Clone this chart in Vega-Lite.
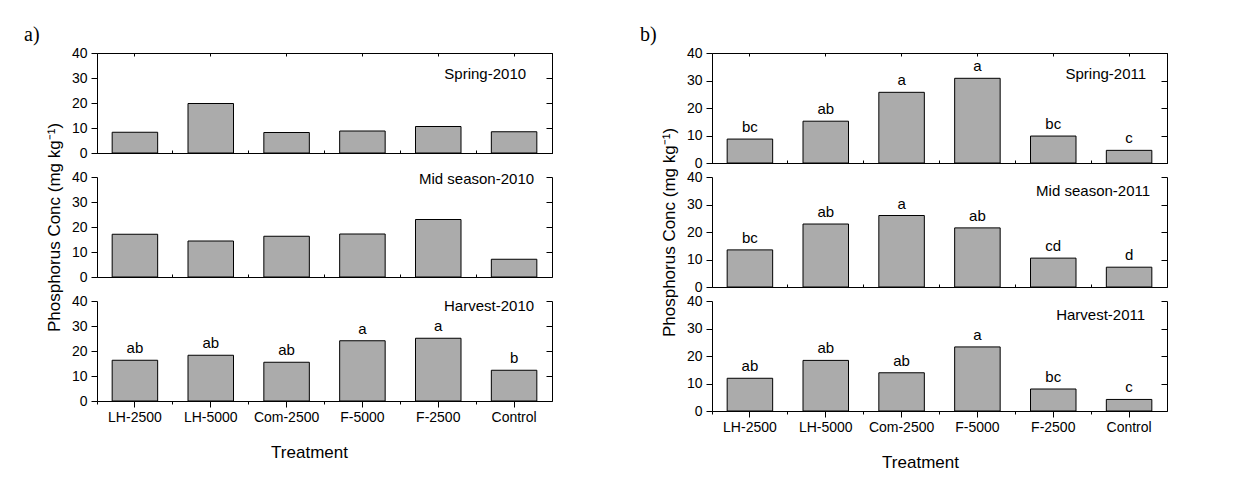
{
  "$schema": "https://vega.github.io/schema/vega-lite/v6.json",
  "padding": {"left": 23, "top": 24, "right": 0, "bottom": 0},
  "background": "white",
  "datasets": {
    "d": [
      {"panel": "a", "season": "Spring-2010", "treatment": "LH-2500", "value": 8.3, "letter": ""},
      {"panel": "a", "season": "Spring-2010", "treatment": "LH-5000", "value": 19.8, "letter": ""},
      {"panel": "a", "season": "Spring-2010", "treatment": "Com-2500", "value": 8.2, "letter": ""},
      {"panel": "a", "season": "Spring-2010", "treatment": "F-5000", "value": 8.8, "letter": ""},
      {"panel": "a", "season": "Spring-2010", "treatment": "F-2500", "value": 10.6, "letter": ""},
      {"panel": "a", "season": "Spring-2010", "treatment": "Control", "value": 8.5, "letter": ""},
      {"panel": "a", "season": "Mid season-2010", "treatment": "LH-2500", "value": 17.1, "letter": ""},
      {"panel": "a", "season": "Mid season-2010", "treatment": "LH-5000", "value": 14.4, "letter": ""},
      {"panel": "a", "season": "Mid season-2010", "treatment": "Com-2500", "value": 16.3, "letter": ""},
      {"panel": "a", "season": "Mid season-2010", "treatment": "F-5000", "value": 17.2, "letter": ""},
      {"panel": "a", "season": "Mid season-2010", "treatment": "F-2500", "value": 23.0, "letter": ""},
      {"panel": "a", "season": "Mid season-2010", "treatment": "Control", "value": 7.1, "letter": ""},
      {"panel": "a", "season": "Harvest-2010", "treatment": "LH-2500", "value": 16.3, "letter": "ab"},
      {"panel": "a", "season": "Harvest-2010", "treatment": "LH-5000", "value": 18.3, "letter": "ab"},
      {"panel": "a", "season": "Harvest-2010", "treatment": "Com-2500", "value": 15.5, "letter": "ab"},
      {"panel": "a", "season": "Harvest-2010", "treatment": "F-5000", "value": 24.1, "letter": "a"},
      {"panel": "a", "season": "Harvest-2010", "treatment": "F-2500", "value": 25.1, "letter": "a"},
      {"panel": "a", "season": "Harvest-2010", "treatment": "Control", "value": 12.3, "letter": "b"},
      {"panel": "b", "season": "Spring-2011", "treatment": "LH-2500", "value": 8.7, "letter": "bc"},
      {"panel": "b", "season": "Spring-2011", "treatment": "LH-5000", "value": 15.2, "letter": "ab"},
      {"panel": "b", "season": "Spring-2011", "treatment": "Com-2500", "value": 25.7, "letter": "a"},
      {"panel": "b", "season": "Spring-2011", "treatment": "F-5000", "value": 30.8, "letter": "a"},
      {"panel": "b", "season": "Spring-2011", "treatment": "F-2500", "value": 9.8, "letter": "bc"},
      {"panel": "b", "season": "Spring-2011", "treatment": "Control", "value": 4.6, "letter": "c"},
      {"panel": "b", "season": "Mid season-2011", "treatment": "LH-2500", "value": 13.5, "letter": "bc"},
      {"panel": "b", "season": "Mid season-2011", "treatment": "LH-5000", "value": 22.9, "letter": "ab"},
      {"panel": "b", "season": "Mid season-2011", "treatment": "Com-2500", "value": 26.0, "letter": "a"},
      {"panel": "b", "season": "Mid season-2011", "treatment": "F-5000", "value": 21.5, "letter": "ab"},
      {"panel": "b", "season": "Mid season-2011", "treatment": "F-2500", "value": 10.5, "letter": "cd"},
      {"panel": "b", "season": "Mid season-2011", "treatment": "Control", "value": 7.2, "letter": "d"},
      {"panel": "b", "season": "Harvest-2011", "treatment": "LH-2500", "value": 11.9, "letter": "ab"},
      {"panel": "b", "season": "Harvest-2011", "treatment": "LH-5000", "value": 18.4, "letter": "ab"},
      {"panel": "b", "season": "Harvest-2011", "treatment": "Com-2500", "value": 13.9, "letter": "ab"},
      {"panel": "b", "season": "Harvest-2011", "treatment": "F-5000", "value": 23.3, "letter": "a"},
      {"panel": "b", "season": "Harvest-2011", "treatment": "F-2500", "value": 8.0, "letter": "bc"},
      {"panel": "b", "season": "Harvest-2011", "treatment": "Control", "value": 4.2, "letter": "c"}
    ]
  },
  "data": {"name": "d"},
  "columns": 2,
  "bounds": "flush",
  "align": "all",
  "spacing": {"row": 14, "column": 160},
  "concat": [
    {
      "width": 455, "height": 100,
      "view": {"stroke": "black", "strokeWidth": 1},
      "title": {"text": "a)", "anchor": "start", "frame": "group", "dx": -73, "offset": -15, "baseline": "alphabetic", "font": "Liberation Serif", "fontSize": 20, "fontWeight": "normal", "color": "black"},
      "transform": [{"filter": "datum.panel == 'a' && datum.season == 'Spring-2010'"}],
      "layer": [
        {"mark": {"type": "bar", "fill": "#ababab", "stroke": "black", "strokeWidth": 1},
         "encoding": {
           "x": {"field": "treatment", "type": "nominal", "scale": {"domain": ["LH-2500", "LH-5000", "Com-2500", "F-5000", "F-2500", "Control"], "paddingInner": 0.4, "paddingOuter": 0.2}, "axis": {"orient": "bottom", "labels": false, "tickSize": -3, "title": null}},
           "y": {"field": "value", "type": "quantitative", "scale": {"domain": [0, 40], "nice": false}, "axis": {"orient": "left", "values": [0, 10, 20, 30, 40], "tickSize": 6, "labelPadding": 4, "title": null}}}},
        {"mark": {"type": "text", "baseline": "alphabetic", "dy": -7, "fontSize": 15},
         "encoding": {
           "x": {"field": "treatment", "type": "nominal", "axis": {"orient": "top", "labels": false, "tickSize": -3, "domain": false, "title": null}},
           "y": {"field": "value", "type": "quantitative", "axis": {"orient": "right", "labels": false, "values": [0, 10, 20, 30, 40], "tickSize": -6, "title": null}},
           "text": {"field": "letter"}}},
        {"transform": [{"filter": "datum.treatment == 'Control'"}],
         "mark": {"type": "text", "align": "right", "baseline": "middle", "dx": 12, "fontSize": 15},
         "encoding": {
           "x": {"field": "treatment", "type": "nominal", "axis": {"orient": "bottom", "labels": false, "tickSize": -3, "bandPosition": -0.3333, "domain": false, "title": null}},
           "y": {"datum": 31.6, "type": "quantitative", "axis": null},
           "text": {"field": "season"}}}
      ],
      "resolve": {"axis": {"x": "independent", "y": "independent"}}
    },
    {
      "width": 455, "height": 110,
      "view": {"stroke": "black", "strokeWidth": 1},
      "title": {"text": "b)", "anchor": "start", "frame": "group", "dx": -72, "offset": -15, "baseline": "alphabetic", "font": "Liberation Serif", "fontSize": 20, "fontWeight": "normal", "color": "black"},
      "transform": [{"filter": "datum.panel == 'b' && datum.season == 'Spring-2011'"}],
      "layer": [
        {"mark": {"type": "bar", "fill": "#ababab", "stroke": "black", "strokeWidth": 1},
         "encoding": {
           "x": {"field": "treatment", "type": "nominal", "scale": {"domain": ["LH-2500", "LH-5000", "Com-2500", "F-5000", "F-2500", "Control"], "paddingInner": 0.4, "paddingOuter": 0.2}, "axis": {"orient": "bottom", "labels": false, "tickSize": -3, "title": null}},
           "y": {"field": "value", "type": "quantitative", "scale": {"domain": [0, 40], "nice": false}, "axis": {"orient": "left", "values": [0, 10, 20, 30, 40], "tickSize": 6, "labelPadding": 4, "title": null}}}},
        {"mark": {"type": "text", "baseline": "alphabetic", "dy": -7, "fontSize": 15},
         "encoding": {
           "x": {"field": "treatment", "type": "nominal", "axis": {"orient": "top", "labels": false, "tickSize": -3, "domain": false, "title": null}},
           "y": {"field": "value", "type": "quantitative", "axis": {"orient": "right", "labels": false, "values": [0, 10, 20, 30, 40], "tickSize": -6, "title": null}},
           "text": {"field": "letter"}}},
        {"transform": [{"filter": "datum.treatment == 'Control'"}],
         "mark": {"type": "text", "align": "right", "baseline": "middle", "dx": 17, "fontSize": 15},
         "encoding": {
           "x": {"field": "treatment", "type": "nominal", "axis": {"orient": "bottom", "labels": false, "tickSize": -3, "bandPosition": -0.3333, "domain": false, "title": null}},
           "y": {"datum": 32.5, "type": "quantitative", "axis": null},
           "text": {"field": "season"}}}
      ],
      "resolve": {"axis": {"x": "independent", "y": "independent"}}
    },
    {
      "width": 455, "height": 100,
      "transform": [{"filter": "datum.panel == 'a' && datum.season == 'Mid season-2010'"}],
      "layer": [
        {"mark": {"type": "bar", "fill": "#ababab", "stroke": "black", "strokeWidth": 1},
         "encoding": {
           "x": {"field": "treatment", "type": "nominal", "scale": {"domain": ["LH-2500", "LH-5000", "Com-2500", "F-5000", "F-2500", "Control"], "paddingInner": 0.4, "paddingOuter": 0.2}, "axis": {"orient": "bottom", "labels": false, "tickSize": -3, "title": null}},
           "y": {"field": "value", "type": "quantitative", "scale": {"domain": [0, 40], "nice": false}, "axis": {"orient": "left", "values": [0, 10, 20, 30, 40], "tickSize": 6, "labelPadding": 4, "title": "Phosphorus Conc (mg kg⁻¹)", "titlePadding": 8}}}},
        {"mark": {"type": "text", "baseline": "alphabetic", "dy": -7, "fontSize": 15},
         "encoding": {
           "x": {"field": "treatment", "type": "nominal", "axis": {"orient": "bottom", "labels": false, "tickSize": -3, "bandPosition": -0.3333, "domain": false, "title": null}},
           "y": {"field": "value", "type": "quantitative", "axis": {"orient": "right", "labels": false, "values": [0, 10, 20, 30, 40], "tickSize": -6, "title": null}},
           "text": {"field": "letter"}}},
        {"transform": [{"filter": "datum.treatment == 'Control'"}],
         "mark": {"type": "text", "align": "right", "baseline": "middle", "dx": 20, "fontSize": 15},
         "encoding": {
           "x": {"field": "treatment", "type": "nominal", "axis": null},
           "y": {"datum": 39.2, "type": "quantitative", "axis": null},
           "text": {"field": "season"}}}
      ],
      "resolve": {"axis": {"x": "independent", "y": "independent"}}
    },
    {
      "width": 455, "height": 110,
      "transform": [{"filter": "datum.panel == 'b' && datum.season == 'Mid season-2011'"}],
      "layer": [
        {"mark": {"type": "bar", "fill": "#ababab", "stroke": "black", "strokeWidth": 1},
         "encoding": {
           "x": {"field": "treatment", "type": "nominal", "scale": {"domain": ["LH-2500", "LH-5000", "Com-2500", "F-5000", "F-2500", "Control"], "paddingInner": 0.4, "paddingOuter": 0.2}, "axis": {"orient": "bottom", "labels": false, "tickSize": -3, "title": null}},
           "y": {"field": "value", "type": "quantitative", "scale": {"domain": [0, 40], "nice": false}, "axis": {"orient": "left", "values": [0, 10, 20, 30, 40], "tickSize": 6, "labelPadding": 4, "title": "Phosphorus Conc (mg kg⁻¹)", "titlePadding": 8}}}},
        {"mark": {"type": "text", "baseline": "alphabetic", "dy": -7, "fontSize": 15},
         "encoding": {
           "x": {"field": "treatment", "type": "nominal", "axis": {"orient": "bottom", "labels": false, "tickSize": -3, "bandPosition": -0.3333, "domain": false, "title": null}},
           "y": {"field": "value", "type": "quantitative", "axis": {"orient": "right", "labels": false, "values": [0, 10, 20, 30, 40], "tickSize": -6, "title": null}},
           "text": {"field": "letter"}}},
        {"transform": [{"filter": "datum.treatment == 'Control'"}],
         "mark": {"type": "text", "align": "right", "baseline": "middle", "dx": 21, "fontSize": 15},
         "encoding": {
           "x": {"field": "treatment", "type": "nominal", "axis": null},
           "y": {"datum": 34.9, "type": "quantitative", "axis": null},
           "text": {"field": "season"}}}
      ],
      "resolve": {"axis": {"x": "independent", "y": "independent"}}
    },
    {
      "width": 455, "height": 100,
      "transform": [{"filter": "datum.panel == 'a' && datum.season == 'Harvest-2010'"}],
      "layer": [
        {"mark": {"type": "bar", "fill": "#ababab", "stroke": "black", "strokeWidth": 1},
         "encoding": {
           "x": {"field": "treatment", "type": "nominal", "scale": {"domain": ["LH-2500", "LH-5000", "Com-2500", "F-5000", "F-2500", "Control"], "paddingInner": 0.4, "paddingOuter": 0.2}, "axis": {"orient": "bottom", "labelAngle": 0, "tickSize": 6, "labelPadding": 3, "title": "Treatment", "titlePadding": 20, "titleX": 212}},
           "y": {"field": "value", "type": "quantitative", "scale": {"domain": [0, 40], "nice": false}, "axis": {"orient": "left", "values": [0, 10, 20, 30, 40], "tickSize": 6, "labelPadding": 4, "title": null}}}},
        {"mark": {"type": "text", "baseline": "alphabetic", "dy": -7, "fontSize": 15},
         "encoding": {
           "x": {"field": "treatment", "type": "nominal", "axis": {"orient": "bottom", "labels": false, "tickSize": 3, "bandPosition": -0.3333, "domain": false, "title": null}},
           "y": {"field": "value", "type": "quantitative", "axis": {"orient": "right", "labels": false, "values": [0, 10, 20, 30, 40], "tickSize": -6, "title": null}},
           "text": {"field": "letter"}}},
        {"transform": [{"filter": "datum.treatment == 'Control'"}],
         "mark": {"type": "text", "align": "right", "baseline": "middle", "dx": 20, "fontSize": 15},
         "encoding": {
           "x": {"field": "treatment", "type": "nominal", "axis": null},
           "y": {"datum": 38, "type": "quantitative", "axis": null},
           "text": {"field": "season"}}}
      ],
      "resolve": {"axis": {"x": "independent", "y": "independent"}}
    },
    {
      "width": 455, "height": 110,
      "transform": [{"filter": "datum.panel == 'b' && datum.season == 'Harvest-2011'"}],
      "layer": [
        {"mark": {"type": "bar", "fill": "#ababab", "stroke": "black", "strokeWidth": 1},
         "encoding": {
           "x": {"field": "treatment", "type": "nominal", "scale": {"domain": ["LH-2500", "LH-5000", "Com-2500", "F-5000", "F-2500", "Control"], "paddingInner": 0.4, "paddingOuter": 0.2}, "axis": {"orient": "bottom", "labelAngle": 0, "tickSize": 6, "labelPadding": 3, "title": "Treatment", "titlePadding": 20, "titleX": 208}},
           "y": {"field": "value", "type": "quantitative", "scale": {"domain": [0, 40], "nice": false}, "axis": {"orient": "left", "values": [0, 10, 20, 30, 40], "tickSize": 6, "labelPadding": 4, "title": null}}}},
        {"mark": {"type": "text", "baseline": "alphabetic", "dy": -7, "fontSize": 15},
         "encoding": {
           "x": {"field": "treatment", "type": "nominal", "axis": {"orient": "bottom", "labels": false, "tickSize": 3, "bandPosition": -0.3333, "domain": false, "title": null}},
           "y": {"field": "value", "type": "quantitative", "axis": {"orient": "right", "labels": false, "values": [0, 10, 20, 30, 40], "tickSize": -6, "title": null}},
           "text": {"field": "letter"}}},
        {"transform": [{"filter": "datum.treatment == 'Control'"}],
         "mark": {"type": "text", "align": "right", "baseline": "middle", "dx": 16, "fontSize": 15},
         "encoding": {
           "x": {"field": "treatment", "type": "nominal", "axis": null},
           "y": {"datum": 34.9, "type": "quantitative", "axis": null},
           "text": {"field": "season"}}}
      ],
      "resolve": {"axis": {"x": "independent", "y": "independent"}}
    }
  ],
  "config": {
    "font": "Liberation Sans",
    "view": {"stroke": null},
    "axis": {"domainColor": "black", "tickColor": "black", "labelColor": "black", "titleColor": "black", "labelFontSize": 14, "titleFontSize": 17, "titleFontWeight": "normal", "grid": false, "labelFont": "Liberation Sans", "titleFont": "Liberation Sans", "domainWidth": 1, "tickWidth": 1, "labelAngle": 0},
    "text": {"font": "Liberation Sans", "color": "black"}
  }
}
